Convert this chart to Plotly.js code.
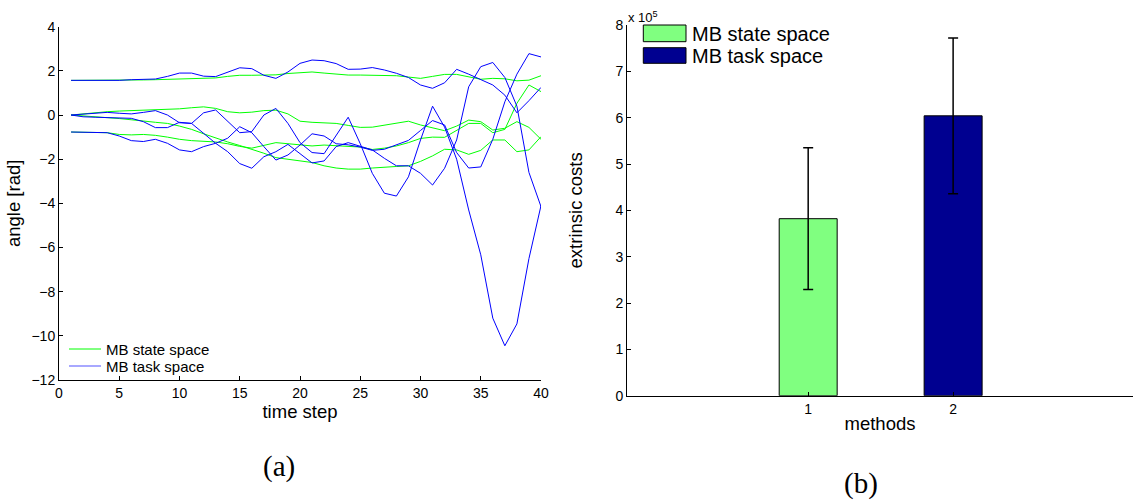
<!DOCTYPE html>
<html>
<head>
<meta charset="utf-8">
<script src="https://cdn.plot.ly/plotly-3.0.1.min.js"></script>
<style>html,body{margin:0;padding:0;background:#fff;}#chart{width:1133px;height:503px;}</style>
</head>
<body>
<div id="chart"></div>
<script>
// ---------- data: panel (a) joint angles over time ----------
var timeSteps = [1,2,3,4,5,6,7,8,9,10,11,12,13,14,15,16,17,18,19,20,21,22,23,24,25,26,27,28,29,30,31,32,33,34,35,36,37,38,39,40];

var stateJoint1 = [1.57,1.57,1.56,1.56,1.57,1.58,1.59,1.6,1.61,1.62,1.63,1.64,1.68,1.75,1.8,1.8,1.8,1.82,1.88,1.93,1.95,1.9,1.84,1.81,1.81,1.81,1.8,1.78,1.72,1.66,1.75,1.84,1.84,1.72,1.62,1.66,1.64,1.55,1.58,1.78];
var stateJoint2 = [0,0.06,0.12,0.15,0.18,0.2,0.22,0.24,0.25,0.28,0.33,0.37,0.3,0.15,0.1,0.13,0.2,0.22,0.05,-0.28,-0.33,-0.35,-0.38,-0.47,-0.56,-0.55,-0.45,-0.35,-0.28,-0.45,-0.58,-0.71,-0.5,-0.23,-0.3,-0.68,-0.6,-0.3,-0.56,-1.1];
var stateJoint3 = [0,-0.03,-0.08,-0.12,-0.16,-0.2,-0.27,-0.33,-0.38,-0.5,-0.65,-0.85,-1.05,-1.22,-1.38,-1.55,-1.73,-1.93,-2.0,-2.05,-2.15,-2.3,-2.4,-2.45,-2.45,-2.4,-2.35,-2.33,-2.3,-2.1,-1.85,-1.55,-1.58,-1.78,-1.6,-1.13,-1.13,-1.66,-1.58,-0.98];
var stateJoint4 = [-0.77,-0.77,-0.78,-0.8,-0.88,-0.9,-0.88,-0.92,-1.0,-1.1,-1.16,-1.2,-1.22,-1.3,-1.42,-1.5,-1.38,-1.25,-1.3,-1.36,-1.4,-1.36,-1.4,-1.42,-1.45,-1.56,-1.5,-1.4,-1.25,-1.06,-1.0,-1.01,-0.7,-0.38,-0.38,-0.8,-0.65,0.53,1.36,1.06];

var taskJoint1 = [1.57,1.57,1.56,1.56,1.57,1.6,1.62,1.63,1.75,1.9,1.9,1.76,1.74,1.95,2.14,2.1,1.8,1.66,1.95,2.34,2.49,2.46,2.33,2.07,2.08,2.15,2.04,1.89,1.7,1.36,1.21,1.46,2.07,1.85,1.6,1.36,0.9,0.1,0.65,1.25];
var taskJoint2 = [0,0.05,0.1,0.12,0.08,0.05,0.12,0.2,0,-0.35,-0.38,0.1,0.23,-0.3,-0.8,-0.75,0.0,0.3,-0.38,-1.25,-1.7,-1.75,-0.9,-0.1,-1.3,-2.64,-3.54,-3.67,-2.8,-1.13,0.4,-0.55,-2.0,-4.3,-6.33,-9.2,-10.45,-9.46,-6.5,-4.1];
var taskJoint3 = [0,-0.08,-0.1,-0.12,-0.13,-0.15,-0.3,-0.57,-0.57,-0.33,-0.38,-0.83,-1.28,-1.66,-2.2,-2.41,-1.89,-1.66,-1.33,-1.75,-2.17,-2.08,-1.43,-1.25,-1.43,-1.58,-1.96,-2.3,-2.3,-2.64,-3.17,-2.41,-1.13,1.28,2.19,2.38,1.7,0.4,-2.6,-4.15];
var taskJoint4 = [-0.77,-0.77,-0.77,-0.8,-0.95,-1.16,-1.2,-1.1,-1.28,-1.58,-1.66,-1.43,-1.28,-1.05,-0.53,-0.8,-1.43,-2.04,-1.81,-1.36,-0.85,-0.95,-1.3,-1.35,-1.45,-1.6,-1.55,-1.35,-1.15,-0.7,-0.25,-0.45,-1.7,-2.4,-2.35,-1.1,0.6,1.85,2.78,2.63];

var seriesNames = ["MB state space", "MB task space"];

// ---------- data: panel (b) extrinsic costs ----------
var methods = [1, 2];
var methodLabels = ["1", "2"];
var costMeans = [382000, 604000];
var costErrors = [153000, 168000];
var costTicks = [0,100000,200000,300000,400000,500000,600000,700000,800000];
var costTickLabels = ["0","1","2","3","4","5","6","7","8"];
var angleTicks = [-12,-10,-8,-6,-4,-2,0,2,4];
var timeTicks = [0,5,10,15,20,25,30,35,40];

// ---------- styling ----------
var W = 1133, H = 503;
function px(x){ return x / W; }
function py(y){ return 1 - y / H; }
var GREEN = "#00ff00", BLUE = "#0000ff";
var BAR_COLORS = ["#80ff80", "#000090"];
var FONT = "Liberation Sans, Arial, Helvetica, sans-serif";
var SERIF = "Liberation Serif, DejaVu Serif, serif";

var traces = [];
var stateSets = [stateJoint1, stateJoint2, stateJoint3, stateJoint4];
var taskSets = [taskJoint1, taskJoint2, taskJoint3, taskJoint4];
stateSets.forEach(function(ys){
  traces.push({x: timeSteps, y: ys, type: "scatter", mode: "lines", name: seriesNames[0],
    showlegend: false, line: {color: GREEN, width: 1}, xaxis: "x", yaxis: "y"});
});
taskSets.forEach(function(ys){
  traces.push({x: timeSteps, y: ys, type: "scatter", mode: "lines", name: seriesNames[1],
    showlegend: false, line: {color: BLUE, width: 1}, xaxis: "x", yaxis: "y"});
});
traces.push({
  x: methods, y: costMeans, type: "bar", width: 0.4, showlegend: false,
  marker: {color: BAR_COLORS, line: {color: "#000", width: 1}},
  error_y: {type: "data", array: costErrors, visible: true, color: "#000", thickness: 1.5, width: 5},
  xaxis: "x2", yaxis: "y2"
});

var axisCommon = {
  showline: true, linecolor: "#000", linewidth: 1, mirror: false,
  ticks: "inside", ticklen: 4, tickcolor: "#000", tickwidth: 1,
  showgrid: false, zeroline: false, automargin: false,
  tickfont: {family: FONT, size: 14, color: "#000"}
};
function ax(extra){ var o = {}; for (var k in axisCommon) o[k] = axisCommon[k]; for (var k2 in extra) o[k2] = extra[k2]; return o; }

var layout = {
  width: W, height: H,
  margin: {l: 0, r: 0, t: 0, b: 0},
  paper_bgcolor: "#fff", plot_bgcolor: "rgba(0,0,0,0)",
  font: {family: FONT, color: "#000"},
  showlegend: false,
  xaxis: ax({domain: [px(59), px(541)], range: [0, 40], tickvals: timeTicks, anchor: "y",
    title: {text: "time step", font: {family: FONT, size: 18.5}, standoff: 0}}),
  yaxis: ax({domain: [py(380), py(26.7)], range: [-12, 4], tickvals: angleTicks, anchor: "x",
    title: {text: "angle [rad]", font: {family: FONT, size: 18.5}, standoff: 5}}),
  xaxis2: ax({domain: [px(627), 1], range: [-0.25, 3.241], tickvals: methods, ticktext: methodLabels, anchor: "y2",
    title: {text: "methods", font: {family: FONT, size: 18.5}, standoff: 1}}),
  yaxis2: ax({domain: [py(395.7), py(25)], range: [0, 800000], tickvals: costTicks, ticktext: costTickLabels, anchor: "x2",
    title: {text: "extrinsic costs", font: {family: FONT, size: 18.5}, standoff: 27}}),
  shapes: [
    // legend of panel (a)
    {type: "line", xref: "paper", yref: "paper", x0: px(69), x1: px(101), y0: py(349), y1: py(349),
      line: {color: GREEN, width: 1}},
    {type: "line", xref: "paper", yref: "paper", x0: px(69), x1: px(101), y0: py(366), y1: py(366),
      line: {color: "#6f6fff", width: 1.2}},
    // legend of panel (b)
    {type: "rect", xref: "paper", yref: "paper", x0: px(643.3), x1: px(686), y0: py(41.7), y1: py(25),
      fillcolor: BAR_COLORS[0], line: {color: "#000", width: 1}},
    {type: "rect", xref: "paper", yref: "paper", x0: px(643.3), x1: px(686), y0: py(63.3), y1: py(47.7),
      fillcolor: BAR_COLORS[1], line: {color: "#000", width: 1}}
  ],
  annotations: [
    {xref: "paper", yref: "paper", x: px(104), y: py(349), xanchor: "left", yanchor: "middle", showarrow: false,
      text: seriesNames[0], font: {family: FONT, size: 15, color: "#000"}},
    {xref: "paper", yref: "paper", x: px(104), y: py(366), xanchor: "left", yanchor: "middle", showarrow: false,
      text: seriesNames[1], font: {family: FONT, size: 15, color: "#000"}},
    {xref: "paper", yref: "paper", x: px(690), y: py(33.5), xanchor: "left", yanchor: "middle", showarrow: false,
      text: seriesNames[0], font: {family: FONT, size: 20, color: "#000"}},
    {xref: "paper", yref: "paper", x: px(690), y: py(55.5), xanchor: "left", yanchor: "middle", showarrow: false,
      text: seriesNames[1], font: {family: FONT, size: 20, color: "#000"}},
    {xref: "paper", yref: "paper", x: px(626), y: py(17), xanchor: "left", yanchor: "middle", showarrow: false,
      text: "x 10<sup>5</sup>", font: {family: FONT, size: 13, color: "#000"}},
    {xref: "paper", yref: "paper", x: px(279), y: py(466), xanchor: "center", yanchor: "middle", showarrow: false,
      text: "(a)", font: {family: SERIF, size: 29, color: "#000"}},
    {xref: "paper", yref: "paper", x: px(861), y: py(483), xanchor: "center", yanchor: "middle", showarrow: false,
      text: "(b)", font: {family: SERIF, size: 29, color: "#000"}}
  ]
};

Plotly.newPlot("chart", traces, layout, {displayModeBar: false, staticPlot: true});
</script>
</body>
</html>
